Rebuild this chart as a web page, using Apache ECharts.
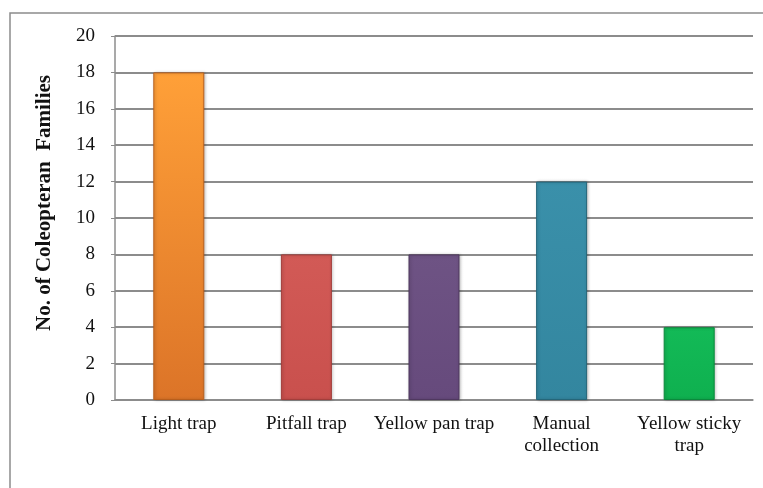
<!DOCTYPE html>
<html>
<head>
<meta charset="utf-8">
<script src="https://cdn.jsdelivr.net/npm/echarts@6/dist/echarts.min.js"></script>
<style>
  html, body { margin: 0; padding: 0; background: #fff; }
  #chart { width: 763px; height: 488px; }
</style>
</head>
<body>
<div id="chart"></div>
<script>
// Collection methods and number of coleopteran families recorded by each
const categories = ['Light trap', 'Pitfall trap', 'Yellow pan trap', 'Manual\ncollection', 'Yellow sticky\ntrap'];
const familyCounts = [18, 8, 8, 12, 4];
const yTicks = [0, 2, 4, 6, 8, 10, 12, 14, 16, 18, 20];

// Fill colours for each bar: [top, bottom, edge]
const barColours = [
  ['#FFA038', '#DC7428', '#B85E1C'],
  ['#D25A56', '#C9504D', '#A23E3B'],
  ['#6E5384', '#664A7C', '#4F385F'],
  ['#3A90AA', '#33869F', '#256679'],
  ['#13BA57', '#0FB04F', '#0A8A3C']
];

const serif = '"Liberation Serif", "Times New Roman", serif';

const chart = echarts.init(document.getElementById('chart'));
chart.setOption({
  animation: false,
  backgroundColor: '#fff',
  graphic: [{
    type: 'rect',
    shape: { x: 10, y: 13, width: 820, height: 520 },
    style: { fill: 'none', stroke: '#8c8c8c', lineWidth: 1.5 },
    silent: true
  }],
  grid: { left: 115, right: 10, top: 36, bottom: 88, containLabel: false },
  xAxis: {
    type: 'category',
    data: categories,
    axisLine: { show: true, lineStyle: { color: '#8c8c8c', width: 1.5 } },
    axisTick: { show: false },
    axisLabel: {
      color: '#111',
      fontFamily: serif,
      fontSize: 19,
      lineHeight: 22,
      margin: 13,
      interval: 0
    }
  },
  yAxis: {
    type: 'value',
    min: yTicks[0],
    max: yTicks[yTicks.length - 1],
    interval: 2,
    name: 'No. of Coleopteran  Families',
    nameLocation: 'middle',
    nameGap: 60,
    nameRotate: 90,
    nameTextStyle: {
      color: '#111',
      fontFamily: serif,
      fontSize: 21,
      fontWeight: 'bold',
      padding: [0, 0, 0, 30]
    },
    axisLine: { show: true, lineStyle: { color: '#8c8c8c', width: 1.5 } },
    axisTick: { show: true, length: 4, lineStyle: { color: '#8c8c8c' } },
    axisLabel: {
      color: '#111',
      fontFamily: serif,
      fontSize: 19,
      margin: 20
    },
    splitLine: { show: true, lineStyle: { color: '#8c8c8c', width: 1.8 } }
  },
  series: [{
    type: 'bar',
    barWidth: 51,
    data: familyCounts.map((v, i) => ({
      value: v,
      itemStyle: {
        color: new echarts.graphic.LinearGradient(0, 0, 0, 1, [
          { offset: 0, color: barColours[i][0] },
          { offset: 1, color: barColours[i][1] }
        ]),
        borderColor: barColours[i][2],
        borderWidth: 1,
        shadowColor: 'rgba(0,0,0,0.25)',
        shadowBlur: 3,
        shadowOffsetX: 1
      }
    }))
  }]
});
</script>
</body>
</html>
